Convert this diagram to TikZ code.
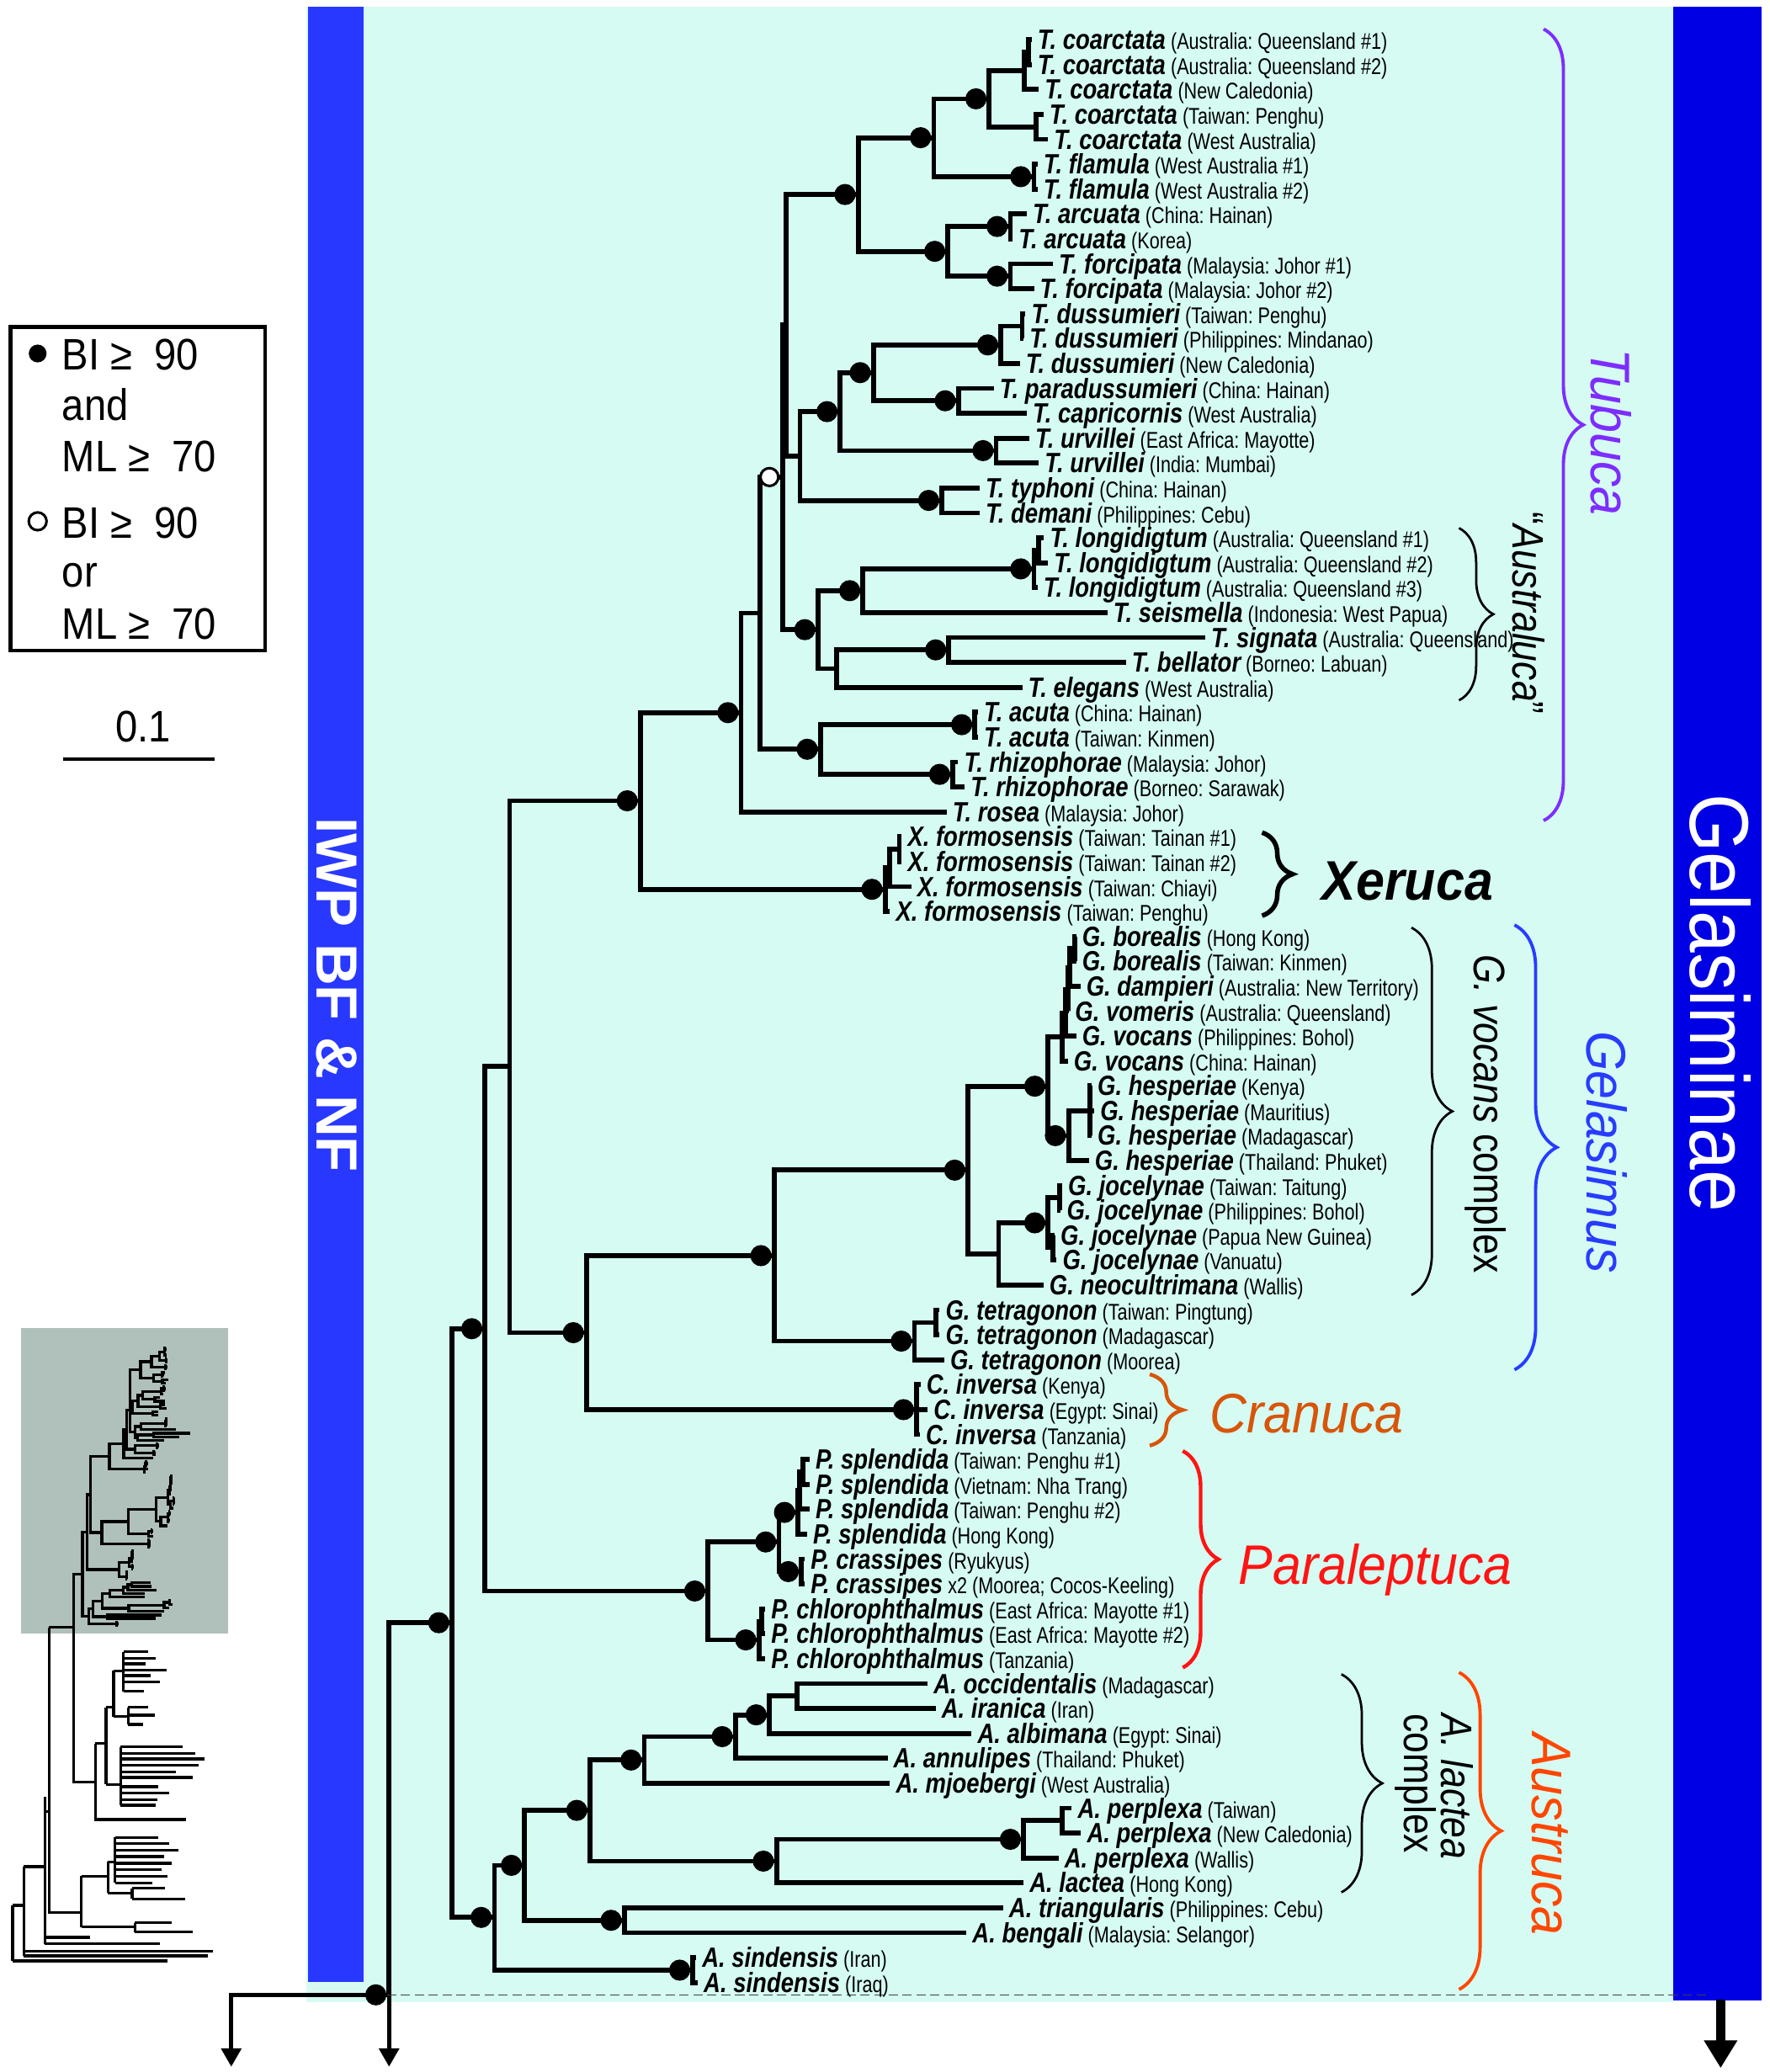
\documentclass[tikz,border=0pt]{standalone}
\usepackage{fontspec}
\setmainfont{Liberation Sans}
\newfontfamily\narrowsans[FakeStretch=0.9]{Liberation Sans}
\newfontfamily\namesans[FakeStretch=0.83]{Liberation Sans}
\newfontfamily\locsans[FakeStretch=0.8]{Liberation Sans}
\newfontfamily\cladesans[FakeStretch=0.92]{Liberation Sans}
\newfontfamily\condsans[FakeStretch=0.85]{Liberation Sans}
\usetikzlibrary{arrows.meta,decorations.pathreplacing}
\frenchspacing

\definecolor{bgcyan}{RGB}{213,251,242}
\definecolor{iwpblue}{RGB}{40,56,255}
\definecolor{gelblue}{RGB}{0,0,228}
\definecolor{tubviolet}{RGB}{125,45,255}
\definecolor{gelasblue}{RGB}{40,60,255}
\definecolor{cranorange}{RGB}{215,85,10}
\definecolor{parared}{RGB}{255,20,20}
\definecolor{austorange}{RGB}{255,70,0}
\definecolor{thumbgray}{RGB}{176,192,186}

\newcommand\taxname[1]{{\namesans\fontsize{12}{13}\selectfont\bfseries\itshape #1}}
\newcommand\taxloc[1]{{\locsans\fontsize{9.8}{11}\selectfont\ #1}}
% elbow from a node to each of its children
\newcommand\clade[2]{\foreach \kid in {#2}{\draw[branch] (#1) |- (\kid);}}

% the Gelasiminae tree (drawn twice: full size and in the thumbnail)
\newcommand\gelatree{%
  \foreach \tx [count=\i] in {780.6,780.6,786,789.5,793,785,785,777,766.3,796.7,
      782.4,776,774.5,771.7,752,777,778.8,786,741.3,741.3,790,793,785,838,912,
      852,773.5,740,740,725,730,716.3,682.3,682.3,689.5,673.4,814.3,814.3,817.5,809,
      814.3,808,826,828,826,824,803.7,802.7,798,799.5,789.6,711,711,714.5,696.5,
      702,696,612.6,612.6,612.6,610.8,609,609,579,579,579,702,708,735.2,671.6,
      673.4,811,818,801,774.5,759,731.3,526.8,528}
    {\coordinate (t\i) at (\tx,{30+18.85*(\i-1)});}
  % Tubuca
  \coordinate (c12) at (778.1,39.4);
  \coordinate (c123) at (775.3,53.6);
  \coordinate (c45) at (784.2,96);
  \coordinate (cC) at (748.5,74.8);
  \coordinate (fl) at (782.4,133.7);
  \coordinate (cCF) at (706.6,104.2);
  \coordinate (ar) at (764.5,171.4);
  \coordinate (fo) at (764.5,209);
  \coordinate (cAF) at (717.3,190.2);
  \coordinate (T1) at (649.4,147.2);
  \coordinate (d12) at (773.5,246.8);
  \coordinate (du) at (757.4,261);
  \coordinate (pc) at (725.2,303.3);
  \coordinate (dp) at (660.9,282);
  \coordinate (ur) at (753.8,341);
  \coordinate (dU) at (635.8,311.5);
  \coordinate (td) at (712.7,378.7);
  \coordinate (nY) at (605.4,345);
  \coordinate (nX) at (594.7,246);
  \coordinate (l12) at (786,416.4);
  \coordinate (lo) at (782.4,430.5);
  \coordinate (ls) at (653,447);
  \coordinate (sb) at (718,491.8);
  \coordinate (sbe) at (633,506);
  \coordinate (aus) at (619,476.5);
  \coordinate (nO) at (592.2,361);
  \coordinate (ac) at (737.7,548.4);
  \coordinate (rh) at (721,586);
  \coordinate (acr) at (620.8,567);
  \coordinate (tI) at (575.1,464);
  \coordinate (tub) at (560.8,539.3);
  % Xeruca
  \coordinate (x12) at (680.5,642.6);
  \coordinate (x123) at (673.4,656.8);
  \coordinate (xer) at (669.8,673);
  \coordinate (TX) at (484.6,606);
  % Gelasimus
  \coordinate (b12) at (813.3,718);
  \coordinate (v1) at (809.4,732.5);
  \coordinate (v2) at (808,749);
  \coordinate (v3) at (806.5,766.5);
  \coordinate (v4) at (803.7,784.7);
  \coordinate (h123) at (825,840.5);
  \coordinate (he) at (808.6,859.4);
  \coordinate (vh) at (793,822);
  \coordinate (j12) at (801.6,906.5);
  \coordinate (j34) at (796.7,944.2);
  \coordinate (jo) at (793,925.4);
  \coordinate (jn) at (755.6,949);
  \coordinate (gv) at (732.4,885.5);
  \coordinate (tt12) at (708,1000.8);
  \coordinate (tet) at (692,1014.9);
  \coordinate (gel) at (585.8,950.2);
  % Cranuca
  \coordinate (cr) at (693.7,1066.75);
  \coordinate (GC) at (443.8,1008.5);
  \coordinate (XG) at (385.6,807);
  % Paraleptuca
  \coordinate (s12) at (607.6,1113.9);
  \coordinate (s123) at (605,1128);
  \coordinate (spl) at (603.6,1144.5);
  \coordinate (cra) at (606.5,1189.3);
  \coordinate (P1) at (589.4,1166.9);
  \coordinate (c12b) at (576.5,1227);
  \coordinate (chl) at (574.3,1241);
  \coordinate (P) at (535.7,1204);
  \coordinate (XGP) at (367,1005.5);
  % Austruca
  \coordinate (a12) at (603,1283.5);
  \coordinate (a6) at (582.2,1297.7);
  \coordinate (a5) at (556.5,1314.2);
  \coordinate (a4) at (487.5,1331.9);
  \coordinate (pp12) at (803.9,1377.8);
  \coordinate (pp) at (774.5,1391.9);
  \coordinate (pl) at (587.6,1408.4);
  \coordinate (a3) at (446.4,1370);
  \coordinate (tb) at (472.4,1453.2);
  \coordinate (a2) at (397,1411.6);
  \coordinate (si) at (524.3,1490.9);
  \coordinate (A) at (374.1,1451);
  \coordinate (GA) at (342,1228);
  \coordinate (root) at (294.4,1509.6);
  \clade{c12}{t1,t2}
  \clade{c123}{c12,t3}
  \clade{c45}{t4,t5}
  \clade{cC}{c123,c45}
  \clade{fl}{t6,t7}
  \clade{cCF}{cC,fl}
  \clade{ar}{t8,t9}
  \clade{fo}{t10,t11}
  \clade{cAF}{ar,fo}
  \clade{T1}{cCF,cAF}
  \clade{d12}{t12,t13}
  \clade{du}{d12,t14}
  \clade{pc}{t15,t16}
  \clade{dp}{du,pc}
  \clade{ur}{t17,t18}
  \clade{dU}{dp,ur}
  \clade{td}{t19,t20}
  \clade{nY}{dU,td}
  \clade{nX}{T1,nY}
  \clade{l12}{t21,t22}
  \clade{lo}{l12,t23}
  \clade{ls}{lo,t24}
  \clade{sb}{t25,t26}
  \clade{sbe}{sb,t27}
  \clade{aus}{ls,sbe}
  \clade{nO}{nX,aus}
  \clade{ac}{t28,t29}
  \clade{rh}{t30,t31}
  \clade{acr}{ac,rh}
  \clade{tI}{nO,acr}
  \clade{tub}{tI,t32}
  \clade{x12}{t33,t34}
  \clade{x123}{x12,t35}
  \clade{xer}{x123,t36}
  \clade{TX}{tub,xer}
  \clade{b12}{t37,t38}
  \clade{v1}{b12,t39}
  \clade{v2}{v1,t40}
  \clade{v3}{v2,t41}
  \clade{v4}{v3,t42}
  \clade{h123}{t43,t44,t45}
  \clade{he}{h123,t46}
  \clade{vh}{v4,he}
  \clade{j12}{t47,t48}
  \clade{j34}{t49,t50}
  \clade{jo}{j12,j34}
  \clade{jn}{jo,t51}
  \clade{gv}{vh,jn}
  \clade{tt12}{t52,t53}
  \clade{tet}{tt12,t54}
  \clade{gel}{gv,tet}
  \clade{cr}{t55,t56,t57}
  \clade{GC}{gel,cr}
  \clade{XG}{TX,GC}
  \clade{s12}{t58,t59}
  \clade{s123}{s12,t60}
  \clade{spl}{s123,t61}
  \clade{cra}{t62,t63}
  \clade{P1}{spl,cra}
  \clade{c12b}{t64,t65}
  \clade{chl}{c12b,t66}
  \clade{P}{P1,chl}
  \clade{XGP}{XG,P}
  \clade{a12}{t67,t68}
  \clade{a6}{a12,t69}
  \clade{a5}{a6,t70}
  \clade{a4}{a5,t71}
  \clade{pp12}{t72,t73}
  \clade{pp}{pp12,t74}
  \clade{pl}{pp,t75}
  \clade{a3}{a4,pl}
  \clade{tb}{t76,t77}
  \clade{a2}{a3,tb}
  \clade{si}{t78,t79}
  \clade{A}{a2,si}
  \clade{GA}{XGP,A}
  \clade{root}{GA}
}

\tikzset{
  branch/.style={line width=2.1pt},
  thumbline/.style={line width=1.2pt},
  supdot/.style={circle, fill=black, inner sep=0pt, minimum size=0.32cm},
  weakdot/.style={circle, draw=black, fill=white, line width=1.1pt, inner sep=0pt, minimum size=0.27cm},
  taxon/.style={anchor=base west, inner xsep=2.4pt, inner ysep=0pt, yshift=-4.2pt},
  cladebrace/.style={decorate, decoration={brace, amplitude=#1}},
  cladelab/.style={font=\cladesans\itshape\fontsize{24}{28}\selectfont, inner sep=0pt},
  notelab/.style={font=\condsans\fontsize{19}{16}\selectfont, inner sep=0pt},
  legtext/.style={font=\narrowsans\fontsize{19}{22}\selectfont, anchor=base west, inner sep=0pt},
  downarrow/.style={line width=1.8pt, -{Triangle[width=0.3cm,length=0.28cm]}}
}

\begin{document}
\begin{tikzpicture}[x=0.02cm, y=-0.02cm]
\useasboundingbox (0,0) rectangle (1339,1568);

% panels
\fill[bgcyan] (232,5) rectangle (1266,1515);
\fill[iwpblue] (233,5) rectangle (275,1500);
\fill[gelblue] (1266,5) rectangle (1333,1514);
\node[rotate=-90, text=white, inner sep=0pt, font=\bfseries\fontsize{25}{30}\selectfont] (iwplab) at (255,753) {IWP BF \& NF};
\node[rotate=-90, text=white, inner sep=0pt, font=\narrowsans\fontsize{36}{40}\selectfont] (gellab) at (1302,759) {Gelasiminae};

% tree
\gelatree
\foreach \n in {cC,fl,cCF,ar,fo,cAF,T1,du,pc,dp,ur,dU,td,lo,ls,sb,aus,ac,rh,acr,tub,
    xer,TX,vh,he,jo,gv,tet,gel,cr,GC,spl,cra,P1,chl,P,XGP,a6,a5,a4,pp,pl,a3,tb,a2,si,A,GA,root}
  \node[supdot] (dot\n) at ([xshift=-0.2cm]\n) {};
\node[weakdot] (dotnO) at ([xshift=-0.2cm]nO) {};

% stem and outgroup arrows
\coordinate (outL) at (175,1509.6);
\coordinate (downA) at (175,1564);
\coordinate (downB) at (294.4,1564);
\coordinate (dashend) at (1291,1509.6);
\draw[downarrow] (root) -- (outL) -- (downA);
\draw[downarrow] (root) -- (downB);
\draw[line width=0.6pt, black!75, dash pattern=on 4pt off 2pt] (dotroot) -- (dashend);
\coordinate (gelfoot) at (1302,1513);
\coordinate (geltip) at (1302,1565);
\draw[line width=4.2pt, -{Triangle[width=0.48cm,length=0.42cm]}] (gelfoot) -- (geltip);

% taxon labels
\foreach \sp/\loc [count=\i] in {
  T. coarctata/(Australia: Queensland \#1), T. coarctata/(Australia: Queensland \#2),
  T. coarctata/(New Caledonia), T. coarctata/(Taiwan: Penghu), T. coarctata/(West Australia),
  T. flamula/(West Australia \#1), T. flamula/(West Australia \#2),
  T. arcuata/(China: Hainan), T. arcuata/(Korea),
  T. forcipata/(Malaysia: Johor \#1), T. forcipata/(Malaysia: Johor \#2),
  T. dussumieri/(Taiwan: Penghu), T. dussumieri/(Philippines: Mindanao), T. dussumieri/(New Caledonia),
  T. paradussumieri/(China: Hainan), T. capricornis/(West Australia),
  T. urvillei/(East Africa: Mayotte), T. urvillei/(India: Mumbai),
  T. typhoni/(China: Hainan), T. demani/(Philippines: Cebu),
  T. longidigtum/(Australia: Queensland \#1), T. longidigtum/(Australia: Queensland \#2),
  T. longidigtum/(Australia: Queensland \#3), T. seismella/(Indonesia: West Papua),
  T. signata/(Australia: Queensland), T. bellator/(Borneo: Labuan), T. elegans/(West Australia),
  T. acuta/(China: Hainan), T. acuta/(Taiwan: Kinmen),
  T. rhizophorae/(Malaysia: Johor), T. rhizophorae/(Borneo: Sarawak), T. rosea/(Malaysia: Johor),
  X. formosensis/(Taiwan: Tainan \#1), X. formosensis/(Taiwan: Tainan \#2),
  X. formosensis/(Taiwan: Chiayi), X. formosensis/(Taiwan: Penghu),
  G. borealis/(Hong Kong), G. borealis/(Taiwan: Kinmen), G. dampieri/(Australia: New Territory),
  G. vomeris/(Australia: Queensland), G. vocans/(Philippines: Bohol), G. vocans/(China: Hainan),
  G. hesperiae/(Kenya), G. hesperiae/(Mauritius), G. hesperiae/(Madagascar), G. hesperiae/(Thailand: Phuket),
  G. jocelynae/(Taiwan: Taitung), G. jocelynae/(Philippines: Bohol),
  G. jocelynae/(Papua New Guinea), G. jocelynae/(Vanuatu), G. neocultrimana/(Wallis),
  G. tetragonon/(Taiwan: Pingtung), G. tetragonon/(Madagascar), G. tetragonon/(Moorea),
  C. inversa/(Kenya), C. inversa/(Egypt: Sinai), C. inversa/(Tanzania),
  P. splendida/(Taiwan: Penghu \#1), P. splendida/(Vietnam: Nha Trang),
  P. splendida/(Taiwan: Penghu \#2), P. splendida/(Hong Kong),
  P. crassipes/(Ryukyus), P. crassipes/x2 (Moorea; Cocos-Keeling),
  P. chlorophthalmus/(East Africa: Mayotte \#1), P. chlorophthalmus/(East Africa: Mayotte \#2),
  P. chlorophthalmus/(Tanzania),
  A. occidentalis/(Madagascar), A. iranica/(Iran), A. albimana/(Egypt: Sinai),
  A. annulipes/(Thailand: Phuket), A. mjoebergi/(West Australia),
  A. perplexa/(Taiwan), A. perplexa/(New Caledonia), A. perplexa/(Wallis), A. lactea/(Hong Kong),
  A. triangularis/(Philippines: Cebu), A. bengali/(Malaysia: Selangor),
  A. sindensis/(Iran), A. sindensis/(Iraq)}
  \node[taxon] (lab\i) at (t\i) {\taxname{\sp}\taxloc{\loc}};

% clade braces and names
\draw[cladebrace=0.6cm, tubviolet, line width=1.4pt] (1168,22) -- (1168,621);
\node[cladelab, text=tubviolet, rotate=-90] (tubuca) at (1219,327) {Tubuca};
\draw[cladebrace=0.52cm, line width=1pt] (1104,399.6) -- (1104,530);
\node[notelab, rotate=-90] (australuca) at (1157,464) {“\textit{Australuca}”};
\draw[cladebrace=0.46cm, line width=2pt] (955,630) -- (955,693);
\node[cladelab, font=\cladesans\bfseries\itshape\fontsize{24}{28}\selectfont, anchor=base west] (xeruca) at (1000,681) {Xeruca};
\draw[cladebrace=0.62cm, line width=1pt] (1068,702) -- (1068,980);
\node[notelab, rotate=-90] (vocanscx) at (1124,843) {\textit{G. vocans} complex};
\draw[cladebrace=0.64cm, gelasblue, line width=1.4pt] (1146,700) -- (1146,1036.5);
\node[cladelab, text=gelasblue, rotate=-90] (gelasimus) at (1216,872) {Gelasimus};
\draw[cladebrace=0.5cm, cranorange, line width=1.6pt] (870,1040) -- (870,1094);
\node[cladelab, text=cranorange, anchor=base west] (cranuca) at (915,1084) {Cranuca};
\draw[cladebrace=0.54cm, parared, line width=1.6pt] (895,1098) -- (895,1262);
\node[cladelab, text=parared, anchor=base west] (paraleptuca) at (937,1199) {Paraleptuca};
\draw[cladebrace=0.62cm, line width=1pt] (1015,1267) -- (1015,1432);
\node[notelab, rotate=-90, align=left] (lacteacx) at (1085,1352) {\textit{A. lactea}\\complex};
\draw[cladebrace=0.64cm, austorange, line width=1.4pt] (1104,1265.6) -- (1104,1505.5);
\node[cladelab, text=austorange, rotate=-90] (austruca) at (1174,1388) {Austruca};

% legend
\draw[line width=1.7pt] (8,247.6) rectangle (200.7,492.4);
\node[supdot, minimum size=0.27cm] (legfull) at (28.5,267.5) {};
\node[legtext] (leg1) at (46.7,280) {BI ≥\ \ 90};
\node[legtext] (leg2) at (46.7,318) {and};
\node[legtext] (leg3) at (46.7,356.7) {ML ≥\ \ 70};
\node[weakdot] (legopen) at (28.5,394.5) {};
\node[legtext] (leg4) at (46.7,407) {BI ≥\ \ 90};
\node[legtext] (leg5) at (46.7,444) {or};
\node[legtext] (leg6) at (46.7,483.5) {ML ≥\ \ 70};
\node[legtext, anchor=base] (scalelab) at (108.3,561.6) {0.1};
\draw[line width=1.5pt] (47.8,574.6) -- (162.4,574.6);

% thumbnail of the whole tree
\fill[thumbgray] (15.9,1004.8) rectangle (172.4,1236.3);
\begin{scope}[shift={(13.5,1015.6)}, scale=0.143, branch/.style={line width=1.2pt}]
  \gelatree
\end{scope}
\draw[thumbline] (37.2,1231.5) -- (55.6,1231.5) (55.6,1231.5) -- (55.6,1348.5) -- (72.2,1348.5);
\draw[thumbline] (37.2,1231.5) -- (37.2,1447.3) -- (61.6,1447.3) (61.6,1419.8) -- (61.6,1458.2);
\draw[thumbline] (34,1359.5) -- (34,1471) (34,1371) -- (37.2,1371);
\draw[thumbline] (72.2,1319.3) -- (72.2,1377) -- (141,1377) (72.2,1319.3) -- (80.2,1319.3)
  (80.2,1291.9) -- (80.2,1350.4) (80.2,1291.9) -- (86,1291.9) (86,1264.4) -- (86,1299)
  (86,1264.4) -- (93.4,1264.4) (93.4,1250) -- (93.4,1280)
  (86,1299) -- (97,1299) (97,1292) -- (97,1305)
  (80.2,1350.4) -- (91.3,1350.4) (91.3,1322) -- (91.3,1366);
\foreach \yy/\xx in {1250/112,1255/118,1259/110,1264/126,1268/114,1273/121,1280/109}
  \draw[thumbline] (93.4,\yy) -- (\xx,\yy);
\foreach \yy/\xx in {1292/112,1298/117,1305/108}
  \draw[thumbline] (97,\yy) -- (\xx,\yy);
\foreach \yy/\xx in {1322/138,1327/148,1331/155,1336/150,1341/133,1345/146,1352/120,1357/128,1362/119,1366/118}
  \draw[thumbline] (91.3,\yy) -- (\xx,\yy);
\draw[thumbline] (61.6,1419.8) -- (81.7,1419.8) (81.7,1408.9) -- (81.7,1432.6)
  (81.7,1408.9) -- (87,1408.9) (87,1390.6) -- (87,1425)
  (81.7,1432.6) -- (100,1432.6) (100,1429) -- (100,1437)
  (61.6,1458.2) -- (102,1458.2) (102,1455) -- (102,1462);
\foreach \yy/\xx in {1390.6/120,1395/128,1400/135,1405/124,1410/130,1415/122,1420/127,1425/115}
  \draw[thumbline] (87,\yy) -- (\xx,\yy);
\foreach \yy/\xx in {1429/125,1437/140}
  \draw[thumbline] (100,\yy) -- (\xx,\yy);
\foreach \yy/\xx in {1455/130,1462/146}
  \draw[thumbline] (102,\yy) -- (\xx,\yy);
\draw[thumbline] (18,1412.5) -- (34,1412.5) (18,1412.5) -- (18,1480)
  (9.6,1441.8) -- (9.6,1484) (9.6,1441.8) -- (18,1441.8);
\draw[thumbline] (34,1466) -- (68,1466) (34,1471) -- (121,1471) (18,1476.5) -- (161,1476.5)
  (18,1480) -- (157,1480) (9.6,1484) -- (127,1484);
\end{tikzpicture}
\end{document}
